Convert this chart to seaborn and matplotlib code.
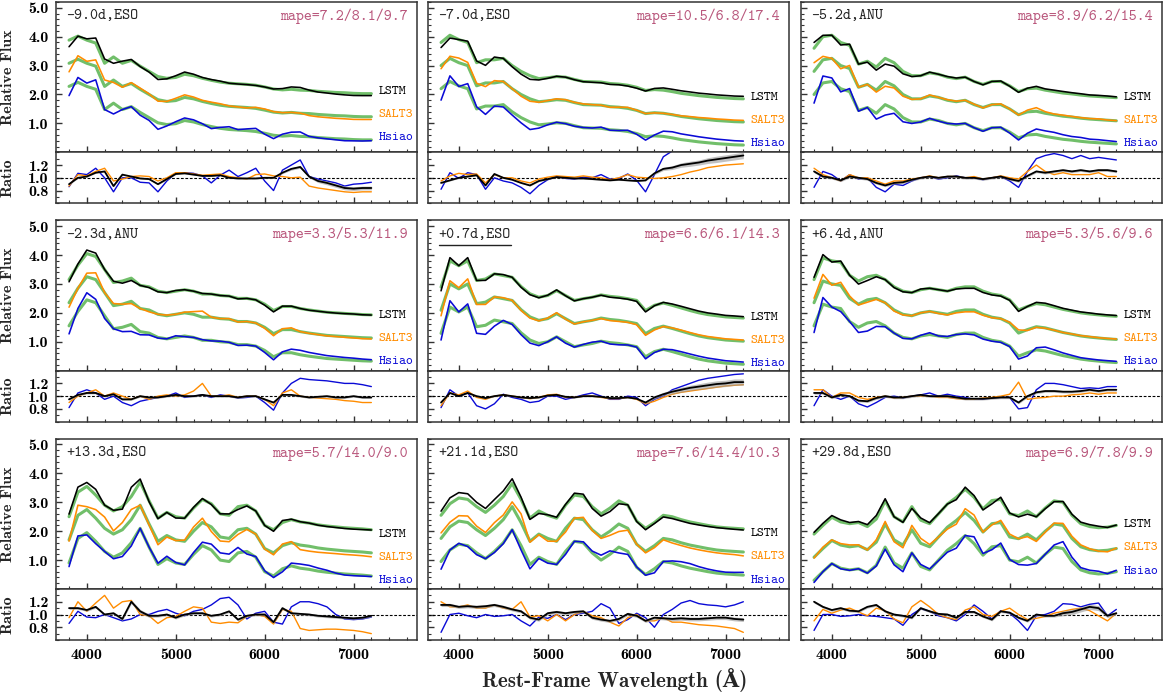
import numpy as np
import matplotlib
matplotlib.use("Agg")
import matplotlib.pyplot as plt
from matplotlib.ticker import MultipleLocator, FixedLocator
from matplotlib.lines import Line2D
import seaborn as sns

# ---------------------------------------------------------------- data
wave = [3800, 3900, 4000, 4100, 4200, 4300, 4400, 4500, 4600, 4700, 4800, 4900,
        5000, 5100, 5200, 5300, 5400, 5500, 5600, 5700, 5800, 5900, 6000, 6100,
        6200, 6300, 6400, 6500, 6600, 6700, 6800, 6900, 7000, 7100, 7200]

epochs = ["-9.0d,ESO", "-7.0d,ESO", "-5.2d,ANU",
          "-2.3d,ANU", "+0.7d,ESO", "+6.4d,ANU",
          "+13.3d,ESO", "+21.1d,ESO", "+29.8d,ESO"]
mape = ["7.2/8.1/9.7", "10.5/6.8/17.4", "8.9/6.2/15.4",
        "3.3/5.3/11.9", "6.6/6.1/14.3", "5.3/5.6/9.6",
        "5.7/14.0/9.0", "7.6/14.4/10.3", "6.9/7.8/9.9"]
highlight = 4

# height of the lowest model label in each panel (relative flux)
label_base = [0.52, 0.31, 0.31, 0.30, 0.25, 0.30, 0.30, 0.31, 0.62]

# observed spectra (relative flux)
obs_1 = [2.28, 2.42, 2.28, 2.18, 1.48, 1.70, 1.48, 1.58, 1.38, 1.20, 1.02, 0.96, 0.99, 1.10, 1.05, 0.96, 0.89, 0.83, 0.79, 0.77, 0.75, 0.72, 0.66, 0.59, 0.56, 0.58, 0.55, 0.54, 0.51, 0.49, 0.47, 0.46, 0.44, 0.43, 0.43]
obs_2 = [2.20, 2.45, 2.30, 2.20, 1.50, 1.60, 1.60, 1.65, 1.40, 1.20, 1.05, 0.95, 0.98, 1.02, 1.00, 0.92, 0.85, 0.84, 0.83, 0.78, 0.76, 0.72, 0.65, 0.54, 0.57, 0.55, 0.50, 0.44, 0.40, 0.36, 0.33, 0.30, 0.28, 0.26, 0.25]
obs_3 = [2.00, 2.40, 2.45, 2.20, 2.10, 1.45, 1.55, 1.35, 1.65, 1.50, 1.20, 1.05, 1.05, 1.15, 1.10, 1.00, 0.95, 1.00, 0.85, 0.75, 0.85, 0.85, 0.70, 0.50, 0.60, 0.62, 0.55, 0.50, 0.45, 0.42, 0.38, 0.35, 0.33, 0.31, 0.29]
obs_4 = [1.55, 2.05, 2.45, 2.35, 1.90, 1.45, 1.50, 1.60, 1.35, 1.30, 1.15, 1.10, 1.15, 1.20, 1.15, 1.05, 1.05, 1.00, 0.98, 0.90, 0.90, 0.85, 0.70, 0.48, 0.62, 0.62, 0.55, 0.50, 0.46, 0.42, 0.40, 0.38, 0.36, 0.34, 0.33]
obs_5 = [1.29, 2.20, 2.03, 2.20, 1.52, 1.57, 1.75, 1.69, 1.63, 1.31, 1.06, 0.94, 1.00, 1.17, 1.00, 0.83, 0.89, 0.94, 1.02, 0.97, 0.94, 0.89, 0.83, 0.48, 0.66, 0.74, 0.66, 0.57, 0.48, 0.40, 0.34, 0.30, 0.26, 0.24, 0.22]
obs_6 = [1.55, 2.30, 2.20, 2.15, 1.70, 1.50, 1.65, 1.70, 1.55, 1.30, 1.15, 1.10, 1.20, 1.25, 1.20, 1.15, 1.25, 1.30, 1.30, 1.15, 1.05, 1.00, 0.85, 0.50, 0.62, 0.72, 0.68, 0.60, 0.52, 0.46, 0.40, 0.36, 0.33, 0.30, 0.28]
obs_7 = [0.90, 1.75, 1.95, 1.65, 1.30, 1.10, 1.25, 1.60, 2.10, 1.45, 0.85, 1.05, 0.90, 0.85, 1.20, 1.50, 1.35, 1.00, 0.95, 1.25, 1.30, 1.10, 0.60, 0.45, 0.70, 0.80, 0.72, 0.68, 0.62, 0.58, 0.55, 0.52, 0.50, 0.48, 0.45]
obs_8 = [0.95, 1.35, 1.55, 1.50, 1.25, 1.05, 1.30, 1.60, 2.05, 1.50, 0.85, 1.10, 0.95, 0.85, 1.30, 1.65, 1.60, 1.25, 1.00, 1.20, 1.45, 1.30, 0.75, 0.50, 0.70, 0.95, 0.90, 0.80, 0.72, 0.66, 0.60, 0.55, 0.52, 0.50, 0.48]
obs_9 = [0.30, 0.60, 0.88, 0.72, 0.66, 0.70, 0.56, 0.82, 1.45, 0.90, 0.72, 1.25, 0.78, 0.66, 1.00, 1.34, 1.57, 1.85, 1.57, 1.17, 1.46, 1.50, 1.00, 0.94, 1.10, 0.90, 1.20, 1.45, 1.40, 0.95, 0.66, 0.56, 0.52, 0.54, 0.60]

# model / observed ratios: Hsiao, SALT3, LSTM
hsiao_1 = [0.86, 1.07, 1.05, 1.15, 1.00, 0.78, 1.00, 1.00, 0.93, 0.92, 0.78, 0.95, 1.07, 1.08, 1.07, 1.03, 0.92, 1.04, 1.12, 1.02, 1.08, 1.15, 0.95, 0.80, 1.12, 1.20, 1.28, 1.02, 0.98, 0.95, 0.92, 0.87, 0.90, 0.91, 0.93]
salt3_1 = [0.87, 1.05, 1.03, 1.10, 1.15, 0.95, 0.98, 1.02, 1.03, 1.02, 0.95, 1.00, 1.08, 1.08, 1.06, 1.04, 1.05, 1.06, 1.02, 1.00, 0.98, 1.05, 1.06, 1.03, 1.02, 1.00, 1.01, 0.87, 0.84, 0.82, 0.80, 0.78, 0.77, 0.78, 0.78]
lstm_1 = [0.90, 1.00, 1.02, 1.08, 1.10, 0.87, 1.05, 1.02, 0.99, 0.98, 0.90, 0.98, 1.06, 1.07, 1.05, 1.03, 1.03, 1.04, 1.00, 0.99, 0.99, 0.99, 1.00, 1.00, 1.08, 1.14, 1.17, 1.02, 0.95, 0.92, 0.88, 0.84, 0.83, 0.84, 0.84]

hsiao_2 = [0.82, 1.08, 0.99, 1.08, 1.05, 0.82, 1.00, 0.95, 0.92, 0.85, 0.75, 0.88, 0.97, 1.02, 0.99, 0.98, 1.01, 1.00, 1.05, 0.98, 0.99, 1.06, 0.96, 0.78, 1.05, 1.33, 1.42, 1.45, 1.47, 1.49, 1.50, 1.52, 1.53, 1.54, 1.55]
salt3_2 = [0.95, 1.03, 1.07, 1.05, 1.06, 0.92, 1.05, 1.00, 1.00, 0.95, 0.92, 0.98, 1.01, 1.03, 1.02, 1.01, 1.03, 1.01, 1.00, 0.97, 1.00, 1.05, 1.01, 1.00, 0.99, 1.00, 1.02, 1.05, 1.09, 1.12, 1.16, 1.18, 1.20, 1.21, 1.22]
lstm_2 = [0.92, 0.96, 1.00, 1.02, 1.04, 0.88, 1.06, 1.00, 0.97, 0.92, 0.88, 0.95, 0.98, 1.01, 1.00, 0.99, 0.99, 0.98, 0.97, 0.96, 0.97, 0.96, 0.95, 0.96, 1.07, 1.14, 1.16, 1.20, 1.22, 1.24, 1.27, 1.29, 1.31, 1.33, 1.35]

hsiao_3 = [0.85, 1.10, 1.05, 0.95, 1.05, 0.98, 1.00, 0.85, 0.78, 0.90, 0.88, 0.95, 1.00, 1.02, 0.98, 1.00, 1.03, 1.00, 1.00, 0.97, 1.00, 1.02, 0.95, 0.85, 1.10, 1.30, 1.35, 1.38, 1.35, 1.30, 1.35, 1.30, 1.32, 1.30, 1.28]
salt3_3 = [1.15, 1.05, 1.00, 0.95, 1.05, 1.00, 1.00, 0.95, 0.90, 0.95, 0.95, 0.98, 1.00, 1.03, 1.00, 1.02, 1.02, 1.00, 1.02, 0.98, 1.00, 1.03, 1.00, 0.98, 1.10, 1.20, 1.10, 1.05, 1.08, 1.05, 1.05, 1.05, 1.08, 1.02, 1.02]
lstm_3 = [1.10, 1.02, 1.00, 0.96, 1.02, 1.00, 0.98, 0.92, 0.88, 0.92, 0.93, 0.97, 1.00, 1.02, 1.00, 1.02, 1.02, 1.00, 1.00, 0.98, 1.00, 1.02, 0.98, 0.95, 1.03, 1.10, 1.08, 1.10, 1.12, 1.10, 1.12, 1.10, 1.12, 1.12, 1.10]

hsiao_4 = [0.82, 1.05, 1.10, 1.05, 0.95, 1.00, 0.90, 0.85, 0.92, 0.95, 0.98, 1.00, 1.05, 0.98, 1.00, 1.02, 0.98, 1.02, 1.00, 0.97, 0.98, 1.00, 0.90, 0.78, 1.05, 1.20, 1.28, 1.26, 1.25, 1.24, 1.22, 1.20, 1.20, 1.18, 1.15]
salt3_4 = [0.90, 1.00, 1.05, 1.10, 1.00, 1.05, 1.00, 0.95, 1.00, 0.95, 1.00, 1.02, 1.00, 1.02, 1.08, 1.20, 1.00, 1.00, 1.02, 0.98, 1.00, 1.00, 0.95, 0.85, 1.05, 1.10, 1.00, 0.98, 0.97, 0.96, 0.95, 0.93, 0.92, 0.90, 0.90]
lstm_4 = [0.95, 1.02, 1.05, 1.05, 1.00, 1.03, 0.95, 0.95, 1.00, 0.98, 0.98, 1.00, 1.02, 1.00, 1.00, 1.02, 1.00, 1.00, 1.00, 0.98, 1.00, 1.00, 0.95, 0.90, 1.02, 1.02, 1.00, 0.98, 0.99, 1.00, 0.98, 0.98, 1.00, 0.98, 0.98]

hsiao_5 = [0.82, 1.10, 1.00, 1.05, 0.85, 0.80, 0.88, 1.03, 0.98, 0.95, 0.90, 0.92, 1.00, 1.00, 0.95, 0.98, 1.02, 1.05, 1.00, 0.95, 0.95, 1.00, 0.98, 0.85, 0.95, 1.00, 1.10, 1.15, 1.20, 1.25, 1.28, 1.30, 1.32, 1.34, 1.35]
salt3_5 = [0.85, 1.05, 1.02, 1.08, 0.98, 0.95, 1.00, 1.02, 1.00, 0.98, 0.96, 0.98, 1.02, 1.03, 0.98, 0.98, 1.00, 1.00, 0.98, 0.96, 0.96, 0.98, 0.95, 0.88, 0.92, 0.98, 1.03, 1.06, 1.08, 1.10, 1.12, 1.14, 1.16, 1.17, 1.18]
lstm_5 = [0.90, 1.05, 1.00, 1.05, 1.00, 0.97, 1.00, 1.02, 1.00, 0.98, 0.97, 0.98, 1.01, 1.02, 0.99, 0.98, 1.00, 1.00, 0.99, 0.97, 0.97, 0.98, 0.96, 0.90, 0.98, 1.03, 1.07, 1.10, 1.13, 1.15, 1.17, 1.19, 1.20, 1.22, 1.22]

hsiao_6 = [0.85, 1.10, 1.00, 0.95, 1.00, 0.88, 0.83, 0.90, 0.98, 1.00, 0.97, 1.00, 1.02, 1.05, 1.00, 1.03, 1.00, 0.98, 0.95, 0.95, 0.97, 0.98, 0.98, 0.80, 0.82, 1.10, 1.20, 1.20, 1.18, 1.15, 1.12, 1.13, 1.12, 1.15, 1.15]
salt3_6 = [1.10, 1.10, 0.98, 1.05, 1.05, 0.98, 0.95, 0.98, 1.00, 0.97, 0.98, 1.00, 1.00, 1.00, 0.98, 0.98, 0.96, 0.95, 0.95, 0.97, 0.98, 1.00, 1.03, 1.22, 0.95, 0.97, 0.98, 1.00, 1.00, 1.02, 1.03, 1.05, 1.03, 1.05, 1.05]
lstm_6 = [1.05, 1.05, 0.98, 1.02, 1.00, 0.93, 0.92, 0.97, 1.00, 0.98, 0.98, 1.00, 1.02, 1.00, 1.00, 1.00, 0.98, 0.96, 0.96, 0.96, 0.97, 0.98, 0.98, 0.90, 1.00, 1.06, 1.08, 1.08, 1.07, 1.07, 1.08, 1.10, 1.08, 1.10, 1.10]

hsiao_7 = [0.86, 1.05, 0.96, 0.95, 1.00, 0.95, 0.90, 0.93, 1.00, 1.00, 1.05, 1.08, 1.02, 0.98, 1.05, 1.08, 1.15, 1.25, 1.27, 1.15, 0.93, 1.02, 1.05, 0.88, 0.85, 1.12, 1.20, 1.20, 1.17, 1.12, 1.00, 0.93, 0.92, 0.93, 0.96]
salt3_7 = [0.95, 1.20, 1.05, 1.18, 1.30, 1.10, 1.20, 1.22, 1.00, 0.98, 0.86, 0.95, 0.97, 1.05, 1.12, 1.10, 0.88, 0.86, 0.88, 0.87, 0.97, 1.00, 0.97, 0.85, 1.08, 1.05, 0.78, 0.75, 0.76, 0.77, 0.77, 0.76, 0.75, 0.73, 0.70]
lstm_7 = [1.10, 1.10, 1.07, 1.12, 1.00, 1.02, 0.93, 1.20, 1.05, 0.98, 0.98, 1.00, 0.95, 1.00, 1.02, 1.02, 0.98, 1.00, 1.05, 0.92, 0.98, 1.00, 1.00, 0.88, 1.10, 1.02, 1.01, 1.00, 0.98, 0.97, 0.96, 0.95, 0.94, 0.95, 0.98]

hsiao_8 = [0.72, 1.00, 1.02, 0.98, 0.95, 1.00, 0.97, 0.98, 1.00, 0.90, 0.82, 0.96, 0.94, 1.00, 0.92, 1.00, 1.02, 1.05, 1.17, 1.10, 0.86, 0.92, 1.02, 0.95, 0.80, 1.00, 1.08, 1.18, 1.22, 1.17, 1.15, 1.14, 1.12, 1.15, 1.20]
salt3_8 = [1.20, 1.12, 1.12, 1.15, 1.10, 1.10, 1.15, 1.10, 1.08, 1.20, 0.96, 0.98, 0.90, 1.00, 0.90, 1.00, 1.05, 0.98, 0.95, 0.88, 0.82, 0.95, 1.00, 0.90, 0.90, 0.95, 0.88, 0.88, 0.86, 0.84, 0.83, 0.82, 0.80, 0.78, 0.72]
lstm_8 = [1.15, 1.15, 1.12, 1.13, 1.12, 1.13, 1.15, 1.12, 1.08, 1.05, 0.95, 0.92, 1.02, 1.04, 1.02, 1.04, 1.05, 0.95, 0.92, 0.90, 0.93, 1.01, 0.98, 0.90, 0.95, 0.94, 0.93, 0.94, 0.93, 0.93, 0.94, 0.95, 0.95, 0.93, 0.92]

hsiao_9 = [0.75, 1.00, 1.00, 0.97, 0.98, 1.00, 0.98, 0.97, 0.95, 0.93, 0.83, 1.00, 1.09, 1.05, 0.98, 0.95, 0.90, 1.00, 1.15, 1.05, 0.93, 1.06, 1.02, 0.90, 0.75, 0.98, 1.00, 1.05, 1.17, 1.16, 1.12, 1.16, 1.18, 0.98, 1.08]
salt3_9 = [0.90, 1.08, 1.02, 1.07, 1.10, 1.04, 0.98, 1.10, 1.06, 0.93, 0.87, 1.12, 1.22, 1.12, 1.00, 0.95, 0.92, 1.07, 1.12, 1.00, 0.97, 1.05, 1.10, 1.00, 0.92, 0.94, 0.97, 1.02, 1.05, 1.08, 1.10, 1.06, 0.98, 0.90, 1.02]
lstm_9 = [1.20, 1.12, 1.07, 1.10, 1.06, 1.05, 1.12, 1.15, 1.05, 1.00, 0.98, 0.95, 1.10, 1.05, 1.01, 1.00, 0.95, 1.04, 1.04, 0.97, 0.92, 1.05, 1.03, 0.95, 0.90, 1.00, 0.98, 0.98, 1.02, 1.04, 1.08, 1.12, 1.10, 0.98, 1.02]

# LSTM ratio uncertainty (half width)
band_1 = [0.01, 0.01, 0.01, 0.01, 0.01, 0.01, 0.01, 0.01, 0.01, 0.01, 0.01, 0.01, 0.01, 0.01, 0.01, 0.01, 0.01, 0.01, 0.01, 0.01, 0.01, 0.01, 0.01, 0.01, 0.015, 0.02, 0.02, 0.02, 0.025, 0.03, 0.03, 0.03, 0.03, 0.03, 0.03]
band_2 = [0.01, 0.01, 0.01, 0.01, 0.01, 0.01, 0.01, 0.01, 0.01, 0.01, 0.01, 0.01, 0.01, 0.01, 0.01, 0.01, 0.01, 0.01, 0.01, 0.01, 0.01, 0.01, 0.01, 0.01, 0.02, 0.025, 0.03, 0.035, 0.04, 0.04, 0.045, 0.05, 0.05, 0.05, 0.05]
band_3 = [0.02, 0.02, 0.02, 0.02, 0.02, 0.02, 0.02, 0.02, 0.02, 0.02, 0.02, 0.02, 0.02, 0.02, 0.02, 0.02, 0.02, 0.02, 0.02, 0.02, 0.02, 0.02, 0.02, 0.02, 0.02, 0.02, 0.02, 0.02, 0.02, 0.02, 0.02, 0.02, 0.02, 0.02, 0.02]
band_4 = [0.015, 0.015, 0.015, 0.015, 0.015, 0.015, 0.015, 0.015, 0.015, 0.015, 0.015, 0.015, 0.015, 0.015, 0.015, 0.015, 0.015, 0.015, 0.015, 0.015, 0.015, 0.015, 0.015, 0.015, 0.015, 0.015, 0.015, 0.015, 0.015, 0.015, 0.015, 0.015, 0.015, 0.015, 0.015]
band_5 = [0.01, 0.01, 0.01, 0.01, 0.01, 0.01, 0.01, 0.01, 0.01, 0.01, 0.01, 0.01, 0.01, 0.01, 0.01, 0.01, 0.01, 0.01, 0.01, 0.01, 0.01, 0.01, 0.01, 0.02, 0.025, 0.03, 0.035, 0.04, 0.04, 0.045, 0.05, 0.05, 0.05, 0.05, 0.05]
band_6 = [0.02, 0.02, 0.02, 0.02, 0.02, 0.02, 0.02, 0.02, 0.02, 0.02, 0.02, 0.02, 0.02, 0.02, 0.02, 0.02, 0.02, 0.02, 0.02, 0.02, 0.02, 0.02, 0.02, 0.02, 0.02, 0.02, 0.02, 0.02, 0.02, 0.02, 0.02, 0.02, 0.02, 0.02, 0.02]
band_7 = [0.02, 0.02, 0.02, 0.02, 0.02, 0.02, 0.025, 0.03, 0.03, 0.025, 0.02, 0.02, 0.02, 0.02, 0.02, 0.02, 0.02, 0.02, 0.02, 0.02, 0.02, 0.02, 0.02, 0.02, 0.02, 0.02, 0.02, 0.02, 0.02, 0.02, 0.02, 0.02, 0.02, 0.02, 0.02]
band_8 = [0.025, 0.025, 0.025, 0.025, 0.025, 0.025, 0.025, 0.025, 0.025, 0.025, 0.025, 0.025, 0.025, 0.025, 0.025, 0.025, 0.025, 0.025, 0.025, 0.025, 0.025, 0.025, 0.025, 0.025, 0.025, 0.025, 0.03, 0.03, 0.03, 0.03, 0.03, 0.03, 0.03, 0.03, 0.03]
band_9 = [0.02, 0.02, 0.02, 0.02, 0.02, 0.02, 0.02, 0.02, 0.02, 0.02, 0.02, 0.02, 0.02, 0.02, 0.02, 0.02, 0.02, 0.02, 0.02, 0.02, 0.02, 0.02, 0.02, 0.02, 0.02, 0.02, 0.02, 0.02, 0.04, 0.04, 0.04, 0.04, 0.04, 0.03, 0.02]

observed = [obs_1, obs_2, obs_3, obs_4, obs_5, obs_6, obs_7, obs_8, obs_9]
ratio_hsiao = [hsiao_1, hsiao_2, hsiao_3, hsiao_4, hsiao_5, hsiao_6, hsiao_7, hsiao_8, hsiao_9]
ratio_salt3 = [salt3_1, salt3_2, salt3_3, salt3_4, salt3_5, salt3_6, salt3_7, salt3_8, salt3_9]
ratio_lstm = [lstm_1, lstm_2, lstm_3, lstm_4, lstm_5, lstm_6, lstm_7, lstm_8, lstm_9]
lstm_band = [band_1, band_2, band_3, band_4, band_5, band_6, band_7, band_8, band_9]

# ---------------------------------------------------------------- style
sns.set_style("ticks")
plt.rcParams.update({
    "axes.unicode_minus": False,
    "xtick.direction": "in", "ytick.direction": "in",
    "xtick.major.size": 4.5, "ytick.major.size": 4.5,
    "xtick.minor.size": 2.3, "ytick.minor.size": 2.3,
    "xtick.major.width": 1.0, "ytick.major.width": 1.0,
    "xtick.minor.width": 0.8, "ytick.minor.width": 0.8,
    "axes.linewidth": 1.1,
    "axes.edgecolor": "#333333",
})

GREEN = "#62b85a"
COLORS = {"Hsiao": "#0a0ad6", "SALT3": "#ff8c00", "LSTM": "#000000"}
OFFSETS = {"Hsiao": 0.0, "SALT3": 0.8, "LSTM": 1.6}
MAPE_COLOR = "#b9577c"
TICK_FONT = {"family": ["cmb10", "DejaVu Serif"], "size": 11.5}
MONO = ["cmtt10", "DejaVu Sans Mono"]

W, H = 1163, 698
fig = plt.figure(figsize=(W / 100, H / 100), dpi=100)

col_left = [55.7, 427.7, 800.7]
col_width = 361.0
row_top = [2.0, 220.35, 438.7]
flux_h, ratio_h = 150.3, 51.0

x = np.array(wave, dtype=float)

for i in range(9):
    r, c = divmod(i, 3)
    left = col_left[c] / W
    top = row_top[r]
    axf = fig.add_axes([left, 1 - (top + flux_h) / H, col_width / W, flux_h / H])
    axr = fig.add_axes([left, 1 - (top + flux_h + ratio_h) / H, col_width / W, ratio_h / H])

    obs = np.array(observed[i])
    ratios = {"Hsiao": np.array(ratio_hsiao[i]),
              "SALT3": np.array(ratio_salt3[i]),
              "LSTM": np.array(ratio_lstm[i])}

    # observed spectrum, repeated under each model
    for name in ["Hsiao", "SALT3", "LSTM"]:
        sns.lineplot(x=x, y=obs + OFFSETS[name], ax=axf, color=GREEN,
                     linewidth=2.2, alpha=0.9, zorder=2)
    for name in ["Hsiao", "SALT3", "LSTM"]:
        model = obs * ratios[name] + OFFSETS[name]
        sns.lineplot(x=x, y=model, ax=axf, color=COLORS[name],
                     linewidth=1.15, zorder=3)
        axf.annotate(name, xy=(x[-1], label_base[i] + OFFSETS[name]),
                     xytext=(5, 0), textcoords="offset points",
                     ha="left", va="center", color=COLORS[name],
                     fontsize=9.5, family=MONO)

    t = axf.text(0.03, 0.905, epochs[i], transform=axf.transAxes,
                 ha="left", va="center", fontsize=11, family=MONO,
                 color="#222222")
    axf.text(0.975, 0.905, "mape=" + mape[i], transform=axf.transAxes,
             ha="right", va="center", fontsize=11, family=MONO,
             color=MAPE_COLOR)
    if i == highlight:
        fig.canvas.draw()
        bb = t.get_window_extent(fig.canvas.get_renderer())
        inv = axf.transAxes.inverted()
        (x0, y0), (x1, _) = inv.transform([(bb.x0, bb.y0), (bb.x1, bb.y0)])
        axf.add_line(Line2D([x0, x1], [y0 - 0.025, y0 - 0.025],
                            transform=axf.transAxes, color="#222222",
                            linewidth=1.0))

    # ratio panel
    band = np.array(lstm_band[i])
    sns.lineplot(x=x, y=ratios["Hsiao"], ax=axr, color=COLORS["Hsiao"],
                 linewidth=1.0, zorder=2)
    sns.lineplot(x=x, y=ratios["SALT3"], ax=axr, color=COLORS["SALT3"],
                 linewidth=1.0, zorder=3)
    axr.fill_between(x, ratios["LSTM"] - band, ratios["LSTM"] + band,
                     color="#999999", alpha=0.6, linewidth=0, zorder=4)
    sns.lineplot(x=x, y=ratios["LSTM"], ax=axr, color="black",
                 linewidth=1.3, zorder=5)
    axr.axhline(1.0, color="black", linestyle=(0, (2.5, 1.5)),
                linewidth=0.8, zorder=1)

    for ax in (axf, axr):
        ax.set_xlim(3650, 7710)
        ax.xaxis.set_major_locator(FixedLocator([4000, 5000, 6000, 7000]))
        ax.xaxis.set_minor_locator(MultipleLocator(200))
        ax.set_xlabel("")
        ax.set_ylabel("")
        ax.tick_params(which="both", top=False, right=False,
                       colors="#333333", labelcolor="black")
        for s in ax.spines.values():
            s.set_color("#333333")
    axf.set_ylim(0.0, 5.2)
    axf.yaxis.set_major_locator(FixedLocator([1, 2, 3, 4, 5]))
    axf.yaxis.set_minor_locator(MultipleLocator(0.2))
    axr.set_ylim(0.6, 1.4)
    axr.yaxis.set_major_locator(FixedLocator([0.8, 1.0, 1.2]))
    axr.yaxis.set_minor_locator(MultipleLocator(0.1))
    axf.tick_params(axis="x", labelbottom=False)

    if c == 0:
        axf.set_yticklabels(["1.0", "2.0", "3.0", "4.0", "5.0"], fontdict=TICK_FONT)
        axr.set_yticklabels(["0.8", "1.0", "1.2"], fontdict=TICK_FONT)
        axf.tick_params(axis="y", pad=5)
        axr.tick_params(axis="y", pad=5)
        axf.set_ylabel("Relative Flux", fontsize=11.5,
                       family=["cmb10", "DejaVu Serif"])
        axr.set_ylabel("Ratio", fontsize=11.5, family=["cmb10", "DejaVu Serif"])
        axf.yaxis.set_label_coords(-0.113, 0.5)
        axr.yaxis.set_label_coords(-0.113, 0.5)
    else:
        axf.tick_params(axis="y", labelleft=False)
        axr.tick_params(axis="y", labelleft=False)
    if r == 2:
        axr.set_xticklabels(["4000", "5000", "6000", "7000"], fontdict=TICK_FONT)
        axr.tick_params(axis="x", pad=6)
    else:
        axr.tick_params(axis="x", labelbottom=False)

fig.text(615 / W, 1 - 680 / H, "Rest-Frame Wavelength (Å)",
         ha="center", va="center", fontsize=15,
         family=["cmb10", "DejaVu Serif"], weight="bold")

fig.savefig("out.png", dpi=100, facecolor="white")
